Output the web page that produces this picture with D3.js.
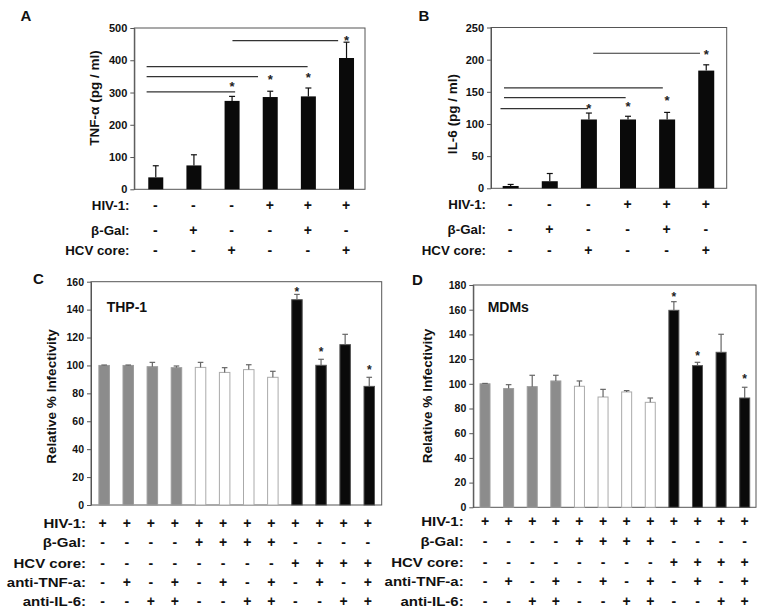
<!DOCTYPE html>
<html><head><meta charset="utf-8">
<script src="https://cdn.jsdelivr.net/npm/d3@7"></script>
<style>
body{margin:0;background:#fff;}
svg{display:block;font-family:"Liberation Sans",Arial,sans-serif;font-weight:bold;}
</style></head><body>
<svg id="chart" width="764" height="616"></svg>
<script>
// ---------------- data ----------------
const abRowLabels = ["HIV-1:", "β-Gal:", "HCV core:"];
const abRowSigns = [
  ["-","-","-","+","+","+"],
  ["-","+","-","-","+","-"],
  ["-","-","+","-","-","+"]
];
const tnfValues = [37, 74, 274, 286, 288, 407];
const tnfErrors = [36, 33, 14, 18, 26, 49];
const tnfTicks = [0, 100, 200, 300, 400, 500];
const tnfStars = [{i:2, v:328}, {i:3, v:349}, {i:4, v:356}, {i:5, v:468}];
const tnfSigLines = [
  {from:-0.24, to:2.08, v:302},
  {from:-0.24, to:2.68, v:349},
  {from:-0.24, to:3.98, v:380},
  {from:2.01, to:4.78, v:461}
];
const il6Values = [3.6, 11, 107, 107, 107, 183];
const il6Errors = [2.4, 12, 10, 5, 11, 9];
const il6Ticks = [0, 50, 100, 150, 200, 250];
const il6Stars = [{i:2, v:128}, {i:3, v:132}, {i:4, v:141}, {i:5, v:212}];
const il6SigLines = [
  {from:-0.26, to:1.98, v:124},
  {from:-0.17, to:2.94, v:141},
  {from:-0.17, to:3.89, v:156},
  {from:2.11, to:4.84, v:210}
];

const cdRowLabels = ["HIV-1:", "β-Gal:", "HCV core:", "anti-TNF-a:", "anti-IL-6:"];
const cdRowSigns = [
  ["+","+","+","+","+","+","+","+","+","+","+","+"],
  ["-","-","-","-","+","+","+","+","-","-","-","-"],
  ["-","-","-","-","-","-","-","-","+","+","+","+"],
  ["-","+","-","+","-","+","-","+","-","+","-","+"],
  ["-","-","+","+","-","-","+","+","-","-","+","+"]
];
const cdGroups = ["ctrl","ctrl","ctrl","ctrl","bgal","bgal","bgal","bgal","hcv","hcv","hcv","hcv"];
const thpValues = [100, 100, 99.1, 98.4, 98.6, 95, 97, 91.5, 147.1, 100.1, 114.9, 85];
const thpErrors = [0.3, 0.3, 3.1, 1.2, 3.6, 3.4, 3.5, 4.3, 3.8, 4.3, 7.4, 6.5];
const thpTicks = [0, 20, 40, 60, 80, 100, 120, 140, 160];
const thpStars = [{i:8, v:154.5}, {i:9, v:111.5}, {i:11, v:98.9}];
const mdmValues = [100, 96.1, 97.7, 102.3, 98, 89.3, 93.4, 85, 159.5, 114.7, 125.5, 88.5];
const mdmErrors = [0.3, 3.2, 9.2, 4.6, 4.3, 6.2, 1.1, 3.5, 7, 2.7, 14.6, 8.7];
const mdmTicks = [0, 20, 40, 60, 80, 100, 120, 140, 160, 180];
const mdmStars = [{i:8, v:172}, {i:9, v:124.9}, {i:11, v:106.3}];

// ---------------- drawing ----------------
const svg = d3.select("#chart");
const groupFill = {ctrl:"#8c8c8c", bgal:"#ffffff", hcv:"#0a0a0a"};
const groupStroke = {ctrl:"#9c9c9c", bgal:"#aaaaaa", hcv:"#555555"};

function panel(o) {
  const g = svg.append("g");
  const n = o.values.length;
  const x = d3.scaleBand().domain(d3.range(n)).range([o.bandL, o.bandR]).padding(0);
  const cx = i => x(i) + x.bandwidth() / 2;
  const fx = f => x(0) + x.bandwidth() / 2 + f * x.step();
  const y = d3.scaleLinear().domain([0, d3.max(o.ticks)]).range([o.bottom, o.top]);

  // frame
  g.append("rect").attr("x", o.left).attr("y", o.top)
    .attr("width", o.right - o.left).attr("height", o.bottom - o.top)
    .attr("fill", "none").attr("stroke", "#555").attr("stroke-width", 1);

  // bars
  g.selectAll("rect.bar").data(o.values).join("rect").attr("class", "bar")
    .attr("x", (d, i) => cx(i) - o.barW / 2)
    .attr("width", o.barW)
    .attr("y", d => y(d))
    .attr("height", d => y(0) - y(d))
    .attr("fill", (d, i) => o.groups ? groupFill[o.groups[i]] : "#0a0a0a")
    .attr("stroke", (d, i) => o.groups ? groupStroke[o.groups[i]] : "none")
    .attr("stroke-width", 1);

  // error bars
  const eb = g.selectAll("g.err").data(o.values).join("g").attr("class", "err")
    .attr("stroke", o.errColor).attr("stroke-width", 1.2);
  eb.append("line").attr("x1", (d, i) => cx(i)).attr("x2", (d, i) => cx(i))
    .attr("y1", d => y(d)).attr("y2", (d, i) => y(d + o.errors[i]));
  eb.append("line").attr("x1", (d, i) => cx(i) - o.capW).attr("x2", (d, i) => cx(i) + o.capW)
    .attr("y1", (d, i) => y(d + o.errors[i])).attr("y2", (d, i) => y(d + o.errors[i]));

  // axis
  const ax = g.append("g").attr("transform", `translate(${o.left},0)`)
    .call(d3.axisLeft(y).tickValues(o.ticks).tickSize(4).tickSizeOuter(0).tickPadding(3));
  ax.select(".domain").attr("stroke", "#555");
  ax.selectAll(".tick line").attr("stroke", "#555");
  ax.selectAll(".tick text").attr("font-size", o.tickSize).attr("font-weight", "bold")
    .attr("font-family", '"Liberation Sans",Arial,sans-serif').attr("fill", "#111");

  // significance lines
  if (o.sigLines) {
    g.selectAll("line.sig").data(o.sigLines).join("line").attr("class", "sig")
      .attr("x1", d => fx(d.from)).attr("x2", d => fx(d.to))
      .attr("y1", d => y(d.v)).attr("y2", d => y(d.v))
      .attr("stroke", "#333").attr("stroke-width", 1.2);
  }
  // stars
  g.selectAll("text.star").data(o.stars).join("text").attr("class", "star")
    .attr("x", d => cx(d.i)).attr("y", d => y(d.v) + o.starSize * 0.55)
    .attr("text-anchor", "middle").attr("font-size", o.starSize).attr("fill", "#222")
    .text("*");

  // y title
  g.append("text")
    .attr("transform", `translate(${o.titleX},${o.titleY}) rotate(-90)`)
    .attr("text-anchor", "middle").attr("dy", "0.35em")
    .attr("font-size", 13.5).attr("fill", "#111").text(o.title);

  // panel letter
  g.append("text").attr("x", o.letterX).attr("y", o.letterY)
    .attr("font-size", 15).attr("fill", "#111").text(o.letter);

  // inner label
  if (o.inner) {
    g.append("text").attr("x", o.innerX).attr("y", o.innerY)
      .attr("font-size", 14).attr("fill", "#111").text(o.inner);
  }

  // condition table
  o.rowLabels.forEach((lab, r) => {
    const yy = o.rowY[r];
    g.append("text")
      .attr("transform", `translate(${o.labelRight},${yy}) scale(${o.labelStretch},1)`)
      .attr("text-anchor", "end").attr("font-size", o.labelSize).attr("fill", "#111")
      .text(lab);
    g.selectAll(null).data(o.rowSigns[r]).join("text")
      .attr("x", (d, i) => cx(i) + o.symShift)
      .attr("y", yy)
      .attr("text-anchor", "middle").attr("font-size", o.symSize).attr("fill", "#111")
      .text(d => d);
  });
}

panel({
  values: tnfValues, errors: tnfErrors, ticks: tnfTicks, stars: tnfStars, sigLines: tnfSigLines,
  left: 134.3, right: 365, top: 28, bottom: 189.3, bandL: 136.7, bandR: 365.6, barW: 15, capW: 3,
  errColor: "#111", starSize: 13, tickSize: 11, symSize: 14,
  title: "TNF-α (pg / ml)", titleX: 94, titleY: 98,
  letter: "A", letterX: 20.5, letterY: 21,
  rowLabels: abRowLabels, rowSigns: abRowSigns, rowY: [209.5, 234.5, 254.5],
  labelRight: 129.5, labelSize: 13.3, labelStretch: 1, symShift: -0.5
});
panel({
  values: il6Values, errors: il6Errors, ticks: il6Ticks, stars: il6Stars, sigLines: il6SigLines,
  left: 491, right: 726.7, top: 27.5, bottom: 188.3, bandL: 491.1, bandR: 725.8, barW: 16, capW: 3,
  errColor: "#111", starSize: 13, tickSize: 11, symSize: 14,
  title: "IL-6 (pg / ml)", titleX: 452, titleY: 114,
  letter: "B", letterX: 418.5, letterY: 21,
  rowLabels: abRowLabels, rowSigns: abRowSigns, rowY: [209, 234, 255],
  labelRight: 486, labelSize: 13.3, labelStretch: 1, symShift: -0.5
});
panel({
  values: thpValues, errors: thpErrors, ticks: thpTicks, stars: thpStars, groups: cdGroups,
  left: 91, right: 381.7, top: 281.7, bottom: 505, bandL: 92.1, bandR: 381.3, barW: 10.5, capW: 2.8,
  errColor: "#666", starSize: 12, tickSize: 10.5, symSize: 14,
  title: "Relative % Infectivity", titleX: 51, titleY: 396.5,
  letter: "C", letterX: 33, letterY: 284,
  inner: "THP-1", innerX: 106.7, innerY: 311.7,
  rowLabels: cdRowLabels, rowSigns: cdRowSigns, rowY: [527.5, 547, 567.5, 586.8, 606],
  labelRight: 86, labelSize: 12, labelStretch: 1.25, symShift: -1.5
});
panel({
  values: mdmValues, errors: mdmErrors, ticks: mdmTicks, stars: mdmStars, groups: cdGroups,
  left: 473.3, right: 756, top: 285, bottom: 507.3, bandL: 473.2, bandR: 756.5, barW: 10, capW: 2.8,
  errColor: "#666", starSize: 12, tickSize: 10.5, symSize: 14,
  title: "Relative % Infectivity", titleX: 427, titleY: 396,
  letter: "D", letterX: 412, letterY: 285,
  inner: "MDMs", innerX: 487.7, innerY: 312.3,
  rowLabels: cdRowLabels, rowSigns: cdRowSigns, rowY: [525.5, 546, 566.5, 585.5, 606],
  labelRight: 463.7, labelSize: 12, labelStretch: 1.25, symShift: 0
});
</script>
</body></html>
